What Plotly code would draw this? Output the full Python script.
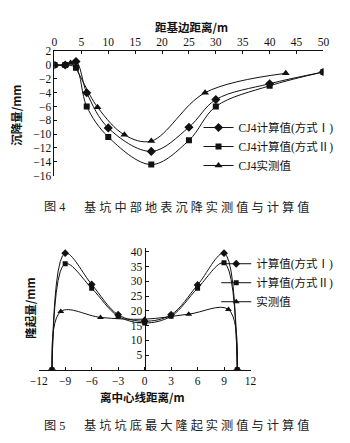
import plotly.graph_objects as go

W, H = 350, 443

# ---------- Fig.4 data: surface settlement ----------
dist_calc = [0, 2, 4, 6, 10, 18, 25, 30, 40, 50]
settle_m1 = [0, 0, 0.5, -4.0, -9.1, -12.5, -9.0, -5.0, -2.7, -1.0]
settle_m2 = [0, 0, -0.4, -6.0, -10.4, -14.4, -10.9, -6.0, -3.0, -1.0]
dist_meas = [0, 2, 3, 8, 13, 18, 28, 43]
settle_meas = [0, 0, 0.3, -6.1, -10.1, -11.0, -4.0, -1.2]

# ---------- Fig.5 data: heave at pit bottom ----------
pos_calc = [-10.5, -9, -6, -3, 0, 3, 6, 9, 10.5]
heave_m1 = [0, 39.6, 29.0, 18.7, 16.5, 18.7, 28.8, 39.6, 0]
heave_m2 = [0, 36.0, 27.7, 18.2, 15.9, 18.2, 27.7, 36.3, 0]
pos_meas = [-10.5, -9.5, -5, 0, 5, 9.5, 10.5]
heave_meas = [0, 19.8, 17.8, 17.2, 18.9, 20.5, 0]

names4 = ["CJ4计算值(方式Ⅰ)", "CJ4计算值(方式Ⅱ)", "CJ4实测值"]
names5 = ["计算值(方式Ⅰ)", "计算值(方式Ⅱ)", "实测值"]
x4_ticks = list(range(0, 51, 5))
y4_ticks = list(range(-16, 3, 2))
x5_ticks = list(range(-12, 13, 3))
y5_ticks = list(range(5, 41, 5))

SERIF = "Liberation Serif, Noto Sans CJK SC, serif"
CJK = "Noto Sans CJK SC, sans-serif"
BLK = "#111111"

def px(x):
    return x / W

def py(y):
    return 1 - y / H

fig = go.Figure()

line = dict(color=BLK, width=1, shape="spline", smoothing=1)
sym = ["diamond", "square", "triangle-up"]
msz = [7, 6, 7]

for i, (xs, ys) in enumerate([(dist_calc, settle_m1), (dist_calc, settle_m2), (dist_meas, settle_meas)]):
    fig.add_trace(go.Scatter(x=xs, y=ys, mode="lines+markers", name=names4[i],
                             line=line, marker=dict(symbol=sym[i], size=msz[i], color=BLK),
                             xaxis="x", yaxis="y", legend="legend"))

for i, (xs, ys) in enumerate([(pos_calc, heave_m1), (pos_calc, heave_m2), (pos_meas, heave_meas)]):
    fig.add_trace(go.Scatter(x=xs, y=ys, mode="lines+markers", name=names5[i],
                             line=line, marker=dict(symbol=sym[i], size=msz[i] - 1, color=BLK),
                             xaxis="x2", yaxis="y2", legend="legend2"))

axis_common = dict(showline=True, linecolor=BLK, linewidth=1, showgrid=False, zeroline=False,
                   ticks="inside", ticklen=3, tickcolor=BLK,
                   tickfont=dict(family=SERIF, size=11.5, color=BLK))

# top chart axes
y_top0 = 60.7 - 2 * 7.1
y_bot0 = 60.7 + 16 * 7.1
fig.update_layout(
    xaxis=dict(domain=[px(47.5), px(328.5)], range=[0, 50], side="top", anchor="y",
               tickvals=x4_ticks, **axis_common),
    yaxis=dict(domain=[py(y_bot0), py(y_top0)], range=[-16, 2], anchor="x",
               tickvals=y4_ticks, **axis_common),
)

# bottom chart axes
y0px = 374.0
k = 3.03
ymax = 41.5
fig.update_layout(
    xaxis2=dict(domain=[px(141.7 - 12 * 9.22), px(141.7 + 12 * 9.22)], range=[-12, 12],
                anchor="y2", tickvals=x5_ticks, **axis_common),
    yaxis2=dict(domain=[py(y0px), py(y0px - ymax * k)], range=[0, ymax], anchor="free",
                position=px(141.7), tickvals=y5_ticks, **axis_common),
)

leg_font = dict(family=SERIF, size=11.5, color=BLK)
fig.update_layout(
    legend=dict(x=px(198), y=py(110), xanchor="left", yanchor="top", bgcolor="rgba(0,0,0,0)",
                font=leg_font, borderwidth=0, tracegroupgap=0),
    legend2=dict(x=px(216.5), y=py(250), xanchor="left", yanchor="top", bgcolor="rgba(0,0,0,0)",
                 font=leg_font, borderwidth=0, tracegroupgap=0),
)

def spaced(s):
    return " ".join(list(s))

ann = []
title_font = dict(family=CJK, size=11.5, color=BLK, weight="bold")
ann.append(dict(text="距基边距离/m", x=px(191), y=py(22), xref="paper", yref="paper",
                showarrow=False, font=title_font, xanchor="center", yanchor="middle"))
ann.append(dict(text="沉降量/mm", x=px(7), y=py(112), xref="paper", yref="paper",
                showarrow=False, font=title_font, textangle=-90, xanchor="center", yanchor="middle"))
ann.append(dict(text="离中心线距离/m", x=px(139), y=py(401.5), xref="paper", yref="paper",
                showarrow=False, font=title_font, xanchor="center", yanchor="middle"))
ann.append(dict(text="隆起量/mm", x=px(22), y=py(311), xref="paper", yref="paper",
                showarrow=False, font=title_font, textangle=-90, xanchor="center", yanchor="middle"))

cap_font = dict(family="Liberation Serif, Noto Sans CJK SC, serif", size=12.2, color="#222222")
captions = [("图 4", "基坑中部地表沉降实测值与计算值", 207),
            ("图 5", "基坑坑底最大隆起实测值与计算值", 431.5)]
for head, body, yc in captions:
    ann.append(dict(text=head, x=px(34), y=py(yc), xref="paper", yref="paper",
                    showarrow=False, font=cap_font, xanchor="left", yanchor="middle"))
    ann.append(dict(text=spaced(body), x=px(76), y=py(yc), xref="paper", yref="paper",
                    showarrow=False, font=cap_font, xanchor="left", yanchor="middle"))

fig.update_layout(width=W, height=H, margin=dict(l=0, r=0, t=0, b=0),
                  paper_bgcolor="white", plot_bgcolor="white", annotations=ann,
                  showlegend=True)

fig.write_html("out.html")
